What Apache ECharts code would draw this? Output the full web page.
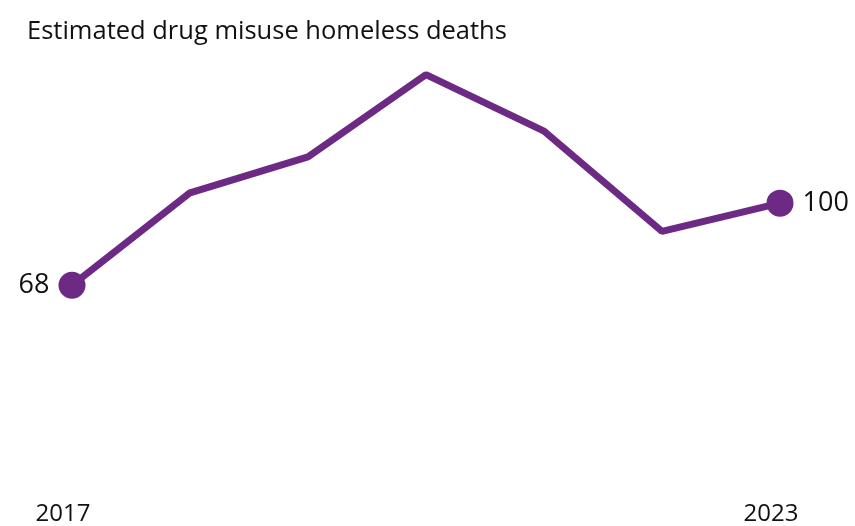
<!DOCTYPE html>
<html>
<head>
<meta charset="utf-8">
<script src="https://cdn.jsdelivr.net/npm/echarts@6/dist/echarts.min.js"></script>
<style>
  html, body { margin: 0; padding: 0; background: #fff; }
  #chart { width: 855px; height: 526px; }
</style>
</head>
<body>
<div id="chart"></div>
<script>
const years = ['2017', '2018', '2019', '2020', '2021', '2022', '2023'];
const deaths = [68, 104, 118, 150, 128, 89, 100];

const chart = echarts.init(document.getElementById('chart'));
const lastIdx = years.length - 1;

chart.setOption({
  animation: false,
  textStyle: { fontFamily: 'Open Sans' },
  title: {
    text: 'Estimated drug misuse homeless deaths',
    left: 22,
    top: 14,
    textStyle: { fontSize: 25.5, fontWeight: 'normal', color: '#111', fontFamily: 'Open Sans' }
  },
  grid: { left: 72, right: 75, top: 49, bottom: 60 },
  xAxis: {
    type: 'category',
    boundaryGap: false,
    data: years,
    axisLine: { show: false },
    axisTick: { show: false },
    axisLabel: {
      interval: (i) => i === 0 || i === lastIdx,
      margin: 42,
      fontSize: 24,
      color: '#111',
      padding: [0, 18, 0, 0]
    }
  },
  yAxis: {
    type: 'value',
    min: 0,
    max: 160,
    show: false,
    splitLine: { show: false }
  },
  series: [{
    type: 'line',
    data: deaths.map((v, i) => i === 0 ? { value: v, label: { position: 'left' } } : v),
    lineStyle: { color: '#6d2a84', width: 7 },
    itemStyle: { color: '#6d2a84' },
    symbol: 'circle',
    symbolSize: (v, p) => (p.dataIndex === 0 || p.dataIndex === lastIdx ? 27 : 0),
    label: {
      show: true,
      fontSize: 27,
      color: '#111',
      distance: 9,
      position: 'right',
      formatter: (p) => (p.dataIndex === 0 || p.dataIndex === lastIdx ? String(p.value) : '')
    },
    labelLayout: { hideOverlap: false },
    emphasis: { disabled: true }
  }]
});
</script>
</body>
</html>
